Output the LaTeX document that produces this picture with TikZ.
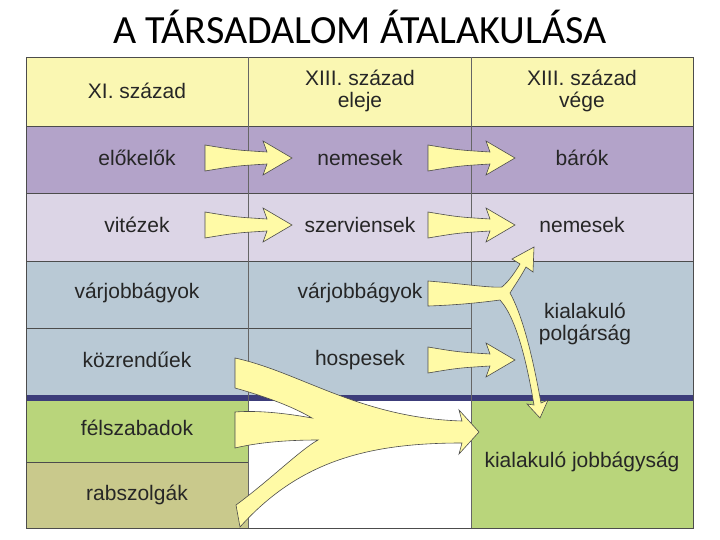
\documentclass[tikz,border=0pt]{standalone}
\usepackage{fontspec}
\setmainfont{Liberation Sans}
\newfontfamily\titlefont{Carlito}
\begin{document}
\begin{tikzpicture}[x=1pt,y=-1pt,
  cell/.style={font=\fontsize{21}{22}\selectfont, align=center, text=black!85},
  arr/.style={fill=yellow!35!white, draw=black!70, line width=0.6pt, line join=miter},
  harr/.pic={\path[arr] (0,-13) .. controls (30,-8) .. (62,-6) -- (58,-17) -- (87,0) -- (58,17) -- (62,6) .. controls (30,8) .. (0,13) -- cycle;}]
\definecolor{hdr}{HTML}{FAF7B2}
\definecolor{pur}{HTML}{B3A3C9}
\definecolor{lav}{HTML}{DCD5E6}
\definecolor{blu}{HTML}{B9C9D5}
\definecolor{grn}{HTML}{B9D57B}
\definecolor{oli}{HTML}{C9C98C}
\definecolor{dblu}{HTML}{3C3C7A}
\fill[white] (0,0) rectangle (720,540);
\useasboundingbox (0,0) rectangle (720,540);
\node[font=\titlefont\fontsize{40}{42}\selectfont] (title) at (360,27) {A TÁRSADALOM ÁTALAKULÁSA};
% backgrounds
\fill[hdr] (26,57) rectangle (693,126);
\fill[pur] (26,126) rectangle (693,193);
\fill[lav] (26,193) rectangle (693,261);
\fill[blu] (26,261) rectangle (693,395);
\fill[dblu] (26,395) rectangle (693,401);
\fill[grn] (26,401) rectangle (248,462);
\fill[oli] (26,462) rectangle (248,528);
\fill[white] (248,401) rectangle (471,528);
\fill[grn] (471,401) rectangle (693,528);
% lines
\draw[black!70, line width=0.6pt] (26,57) rectangle (693,528);
\foreach \y in {126,193,261} \draw[black!70, line width=0.6pt] (26,\y) -- (693,\y);
\draw[black!70, line width=0.6pt] (26,328) -- (471,328);
\draw[black!70, line width=0.6pt] (26,462) -- (248,462);
\draw[black!60, line width=0.6pt] (248,57) -- (248,528) (471,57) -- (471,528);
% texts
\node[cell] (h1) at (137,91) {XI. század};
\node[cell] (h2) at (360,91) {XIII. század\\eleje};
\node[cell] (h3) at (582,91) {XIII. század\\vége};
\node[cell] (a1) at (137,158) {előkelők};
\node[cell] (a2) at (360,158) {nemesek};
\node[cell] (a3) at (582,158) {bárók};
\node[cell] (b1) at (137,225) {vitézek};
\node[cell] (b2) at (360,225) {szerviensek};
\node[cell] (b3) at (582,225) {nemesek};
\node[cell] (c1) at (137,293) {várjobbágyok};
\node[cell] (c2) at (360,293) {várjobbágyok};
\node[cell] (c3) at (585,324) {kialakuló\\polgárság};
\node[cell] (d1) at (137,360) {közrendűek};
\node[cell] (d2) at (360,360) {hospesek};
\node[cell] (e1) at (137,428) {félszabadok};
\node[cell] (f1) at (137,495) {rabszolgák};
\node[cell] (e3) at (582,462) {kialakuló jobbágyság};
% simple arrows
\pic at (205,158) {harr};
\pic at (205,225) {harr};
\pic at (428,158) {harr};
\pic at (428,225) {harr};
\pic at (428,360) {harr};
% branching arrow
\path[arr] (428,281) .. controls (465,284) and (490,288) .. (502,287)
  .. controls (510,280) and (515,272) .. (520,264) -- (512,259) -- (534,247) -- (533,272) -- (526,267)
  .. controls (520,278) and (515,285) .. (510,293)
  .. controls (525,320) and (535,370) .. (541,403) -- (548,400) -- (540,418) -- (527,404) -- (534,405)
  .. controls (528,370) and (518,320) .. (500,300)
  .. controls (485,302) and (460,305) .. (428,306) -- cycle;
% big converging arrow
\path[arr] (235,358) .. controls (300,372) and (360,418) .. (462,421) -- (459,410) -- (479,432) -- (459,454) -- (462,443)
  .. controls (370,443) and (300,460) .. (240,527) -- (236,505)
  .. controls (270,480) and (300,450) .. (318,440)
  .. controls (290,440) and (260,442) .. (235,448) -- (235,412)
  .. controls (260,410) and (290,414) .. (312,418)
  .. controls (290,405) and (260,395) .. (235,388) -- cycle;
\end{tikzpicture}
\end{document}
